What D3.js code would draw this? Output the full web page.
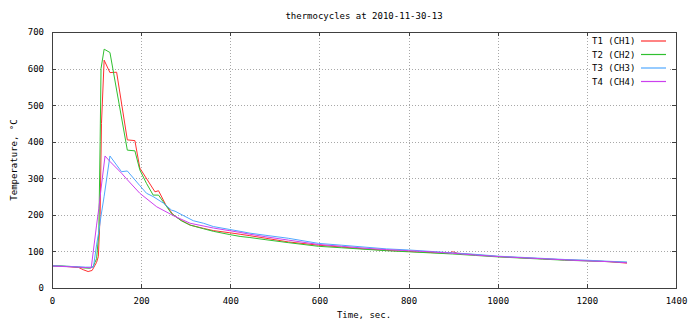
<!DOCTYPE html>
<html>
<head>
<meta charset="utf-8">
<script src="https://cdn.jsdelivr.net/npm/d3@7"></script>
<style>
  html, body { margin: 0; padding: 0; background: #fff; }
  svg { display: block; }
  text { font-family: "DejaVu Sans Mono", "Liberation Mono", monospace; font-size: 9px; fill: #000; }
</style>
</head>
<body>
<svg id="chart" width="690" height="323"></svg>
<script>
// Thermocouple readings, one time/temperature pair of arrays per channel
const t1Time = [0, 20, 40, 60, 70, 81, 90, 100, 104, 108, 111, 117, 130, 145, 169, 186, 197, 231, 239, 255, 272, 290, 310, 340, 362, 399, 422, 444, 480, 530, 598, 650, 700, 750, 800, 850, 890, 899, 910, 950, 1001, 1050, 1100, 1150, 1200, 1250, 1290];
const t1Temp = [61, 60, 58, 56, 50, 45, 48, 70, 86, 200, 450, 623, 589, 590, 405, 403, 328, 263, 266, 228, 200, 185, 172, 163, 157, 151, 147, 143, 136, 126, 117, 112, 107, 103, 100, 97, 95, 99, 95, 91, 86, 83, 80, 77, 75, 72, 68];

const t2Time = [0, 20, 40, 60, 70, 85, 92, 100, 105, 108, 110, 117, 130, 169, 186, 197, 212, 227, 239, 268, 290, 310, 340, 362, 399, 422, 444, 480, 530, 598, 650, 700, 750, 800, 850, 899, 950, 1001, 1050, 1100, 1150, 1200, 1250, 1290];
const t2Temp = [60, 60, 59, 57, 55, 54, 58, 80, 150, 400, 600, 653, 644, 377, 375, 323, 286, 254, 254, 204, 184, 172, 162, 155, 146, 141, 138, 132, 124, 114, 110, 106, 102, 99, 96, 93, 89, 85, 82, 79, 76, 74, 72, 70];

const t3Time = [0, 20, 40, 60, 75, 93, 100, 105, 110, 117, 130, 145, 156, 169, 197, 212, 227, 250, 268, 276, 317, 340, 362, 399, 422, 444, 480, 530, 598, 650, 700, 750, 800, 850, 899, 950, 1001, 1050, 1100, 1150, 1200, 1250, 1290];
const t3Temp = [61, 60, 59, 58, 57, 57, 118, 154, 197, 251, 361, 336, 318, 320, 280, 259, 250, 232, 213, 210, 184, 177, 168, 160, 155, 150, 144, 136, 122, 117, 112, 107, 104, 100, 96, 92, 87, 84, 81, 78, 76, 73, 71];

const t4Time = [0, 20, 40, 60, 75, 88, 100, 105, 110, 119, 130, 156, 169, 197, 235, 272, 310, 362, 422, 444, 480, 530, 598, 650, 700, 750, 800, 850, 899, 950, 1001, 1050, 1100, 1150, 1200, 1250, 1290];
const t4Temp = [60, 59, 58, 57, 56, 55, 172, 217, 271, 361, 346, 314, 296, 259, 222, 198, 177, 164, 152, 147, 140, 131, 119, 114, 109, 105, 102, 99, 95, 90, 86, 83, 80, 77, 74, 72, 69];

const seriesNames = ["T1 (CH1)", "T2 (CH2)", "T3 (CH3)", "T4 (CH4)"];
const seriesColors = ["#ff3030", "#30c030", "#50a8ff", "#cc40ee"];
const xTicks = [0, 200, 400, 600, 800, 1000, 1200, 1400];
const yTicks = [0, 100, 200, 300, 400, 500, 600, 700];

const series = [
  { name: seriesNames[0], color: seriesColors[0], t: t1Time, v: t1Temp },
  { name: seriesNames[1], color: seriesColors[1], t: t2Time, v: t2Temp },
  { name: seriesNames[2], color: seriesColors[2], t: t3Time, v: t3Temp },
  { name: seriesNames[3], color: seriesColors[3], t: t4Time, v: t4Temp }
];

const svg = d3.select("#chart");
const plotLeft = 52, plotRight = 676, plotTop = 32, plotBottom = 288;

const x = d3.scaleLinear().domain([0, 1400]).range([plotLeft, plotRight]);
const y = d3.scaleLinear().domain([0, 700]).range([plotBottom, plotTop]);

// dotted grid
const grid = svg.append("g").attr("stroke", "#a8a8a8").attr("stroke-width", 1)
  .attr("stroke-dasharray", "1,2").attr("shape-rendering", "crispEdges");
xTicks.slice(1, -1).forEach(d => {
  grid.append("line").attr("x1", Math.round(x(d)) + 0.5).attr("x2", Math.round(x(d)) + 0.5)
    .attr("y1", plotTop).attr("y2", plotBottom);
});
yTicks.slice(1, -1).forEach(d => {
  grid.append("line").attr("y1", Math.round(y(d)) + 0.5).attr("y2", Math.round(y(d)) + 0.5)
    .attr("x1", plotLeft).attr("x2", plotRight);
});

// axes with inward ticks, mirrored on top and right
const tickLen = 4;
const axisBottom = d3.axisBottom(x).tickValues(xTicks).tickSize(-tickLen).tickPadding(tickLen + 6).tickFormat(d3.format("d"));
const axisTop = d3.axisTop(x).tickValues(xTicks).tickSize(-tickLen).tickFormat("");
const axisLeft = d3.axisLeft(y).tickValues(yTicks).tickSize(-tickLen).tickPadding(tickLen + 4).tickFormat(d3.format("d"));
const axisRight = d3.axisRight(y).tickValues(yTicks).tickSize(-tickLen).tickFormat("");

function styleAxis(g) {
  g.selectAll(".domain").remove();
  g.selectAll(".tick line").attr("stroke", "#404040").attr("shape-rendering", "crispEdges");
  g.selectAll(".tick text").attr("font-family", "DejaVu Sans Mono, monospace").attr("font-size", 9).attr("fill", "#000");
}
svg.append("g").attr("transform", `translate(0,${plotBottom})`).call(axisBottom).call(styleAxis);
svg.append("g").attr("transform", `translate(0,${plotTop})`).call(axisTop).call(styleAxis);
svg.append("g").attr("transform", `translate(${plotLeft},0)`).call(axisLeft).call(styleAxis);
svg.append("g").attr("transform", `translate(${plotRight},0)`).call(axisRight).call(styleAxis);

// data lines
const line = d3.line().x(d => x(d[0])).y(d => y(d[1]));
series.forEach(s => {
  svg.append("path")
    .datum(s.t.map((t, i) => [t, s.v[i]]))
    .attr("fill", "none")
    .attr("stroke", s.color)
    .attr("stroke-width", 1)
    .attr("d", line);
});

// plot border
svg.append("rect").attr("x", plotLeft + 0.5).attr("y", plotTop + 0.5)
  .attr("width", plotRight - plotLeft).attr("height", plotBottom - plotTop)
  .attr("fill", "none").attr("stroke", "#404040").attr("stroke-width", 1)
  .attr("shape-rendering", "crispEdges");

// legend, on a white patch so grid dots do not run through the samples
const legend = svg.append("g");
legend.append("rect").attr("x", 591).attr("y", 35).attr("width", 77).attr("height", 52).attr("fill", "#fff");
series.forEach((s, i) => {
  const ly = 41 + i * 13.5;
  legend.append("text").attr("x", 592).attr("y", ly).attr("dy", "0.35em").text(s.name);
  legend.append("line").attr("x1", 641).attr("x2", 666).attr("y1", ly).attr("y2", ly)
    .attr("stroke", s.color).attr("stroke-width", 1.2);
});

// titles
svg.append("text").attr("x", (plotLeft + plotRight) / 2).attr("y", 16).attr("dy", "0.35em")
  .attr("text-anchor", "middle").text("thermocycles at 2010-11-30-13");
svg.append("text").attr("x", (plotLeft + plotRight) / 2).attr("y", 315).attr("dy", "0.35em")
  .attr("text-anchor", "middle").text("Time, sec.");
svg.append("text").attr("transform", `translate(14,${(plotTop + plotBottom) / 2}) rotate(-90)`)
  .attr("dy", "0.35em").attr("text-anchor", "middle").text("Temperature, °C");
</script>
</body>
</html>
